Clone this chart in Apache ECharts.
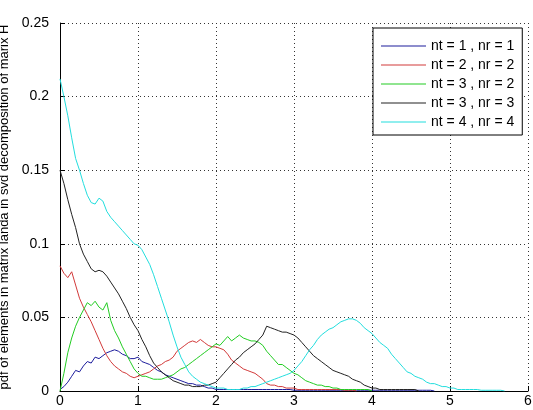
<!DOCTYPE html>
<html>
<head>
<meta charset="utf-8">
<script src="https://cdn.jsdelivr.net/npm/echarts@6/dist/echarts.min.js"></script>
<style>
  html, body { margin: 0; padding: 0; background: #fff; }
  #chart { width: 533px; height: 410px; }
</style>
</head>
<body>
<div id="chart"></div>
<script>
// Histogram-estimated pdfs of singular values, sampled every 0.05 from 0
const STEP = 0.05;
const seriesNames = ['nt = 1 , nr = 1', 'nt = 2 , nr = 2', 'nt = 3 , nr = 2', 'nt = 3 , nr = 3', 'nt = 4 , nr = 4'];
const seriesColors = ['#1c1c9c', '#d23a3a', '#22cc22', '#222222', '#22dddd'];
const xTicks = [0, 1, 2, 3, 4, 5, 6];
const yTicks = [0, 0.05, 0.1, 0.15, 0.2, 0.25];

const pdf11 = [
  .001,.003,.006,.010,.014,.013,.017,.020,.019,.023,.022,.024,.026,.027,.028,.027,.025,.024,.022,.022,
  .023,.020,.019,.018,.016,.014,.013,.011,.010,.009,.008,.007,.006,.005,.005,.004,.004,.003,.002,.002,
  .001,.001,.001,.001,.001,.001,.001,.001,.001,.001,.001,.001,.001,.001,.001,.001,.001,.001,.001,.001,
  .0005,.0005,.0005,.0005,.0005,.0005,.0005,.0005,.0005,.0005,.0005,.0005,.0005,.0005,.0005,.0005,.0005,.0005,.0005,.0005,
  .0005,.0005,.0005,.0005,.0005,.0005,.0005,.0005,.0005,.0005,.0005,.0005,.0005,.0005,.0005,.0005,0
];
const pdf22 = [
  .085,.080,.077,.081,.072,.063,.057,.052,.047,.041,.035,.029,.024,.020,.017,.015,.013,.012,.010,.009,
  .010,.011,.012,.013,.015,.017,.018,.020,.021,.023,.027,.029,.031,.033,.034,.033,.035,.033,.031,.030,
  .030,.029,.028,.025,.021,.019,.017,.015,.014,.013,.012,.010,.008,.005,.004,.004,.003,.003,.002,.002,
  .002,.001,.001,.001,.001,.001,.001,.001,.001,.001,.001,.001,.001,.0005,.0005,.0005,0
];
const pdf32 = [
  0,.012,.026,.036,.044,.050,.055,.060,.058,.061,.057,.055,.060,.048,.041,.036,.030,.025,.020,.015,
  .012,.010,.010,.009,.008,.008,.008,.009,.010,.011,.013,.015,.016,.018,.020,.022,.024,.026,.028,.030,
  .032,.031,.034,.037,.034,.036,.038,.036,.035,.034,.034,.033,.031,.027,.024,.021,.018,.018,.016,.014,
  .012,.011,.009,.007,.006,.005,.004,.004,.003,.003,.002,.002,.001,.001,.001,.001,.001,.001,.001,.001,
  0
];
const pdf33 = [
  .150,.141,.130,.120,.111,.100,.093,.088,.083,.081,.082,.081,.078,.074,.070,.066,.061,.056,.050,.045,
  .041,.035,.030,.024,.019,.016,.013,.011,.009,.007,.006,.005,.004,.004,.003,.003,.003,.004,.004,.005,
  .006,.009,.012,.015,.018,.021,.023,.026,.028,.030,.032,.035,.038,.044,.043,.042,.041,.040,.040,.039,
  .038,.036,.033,.030,.027,.024,.022,.020,.018,.016,.014,.013,.012,.011,.010,.008,.007,.006,.004,.003,
  .002,.002,.001,.001,.001,.001,.001,.001,.001,.001,.001,.001,0
];
const pdf44 = [
  .212,.200,.187,.172,.158,.150,.141,.133,.128,.127,.131,.129,.122,.118,.115,.112,.109,.106,.103,.100,
  .099,.096,.091,.086,.079,.071,.063,.055,.047,.038,.030,.023,.018,.013,.010,.008,.006,.005,.004,.003,
  .002,.002,.002,.001,.001,.001,.001,.002,.002,.003,.003,.004,.005,.006,.007,.008,.009,.010,.011,.012,
  .014,.017,.020,.024,.028,.031,.035,.038,.040,.042,.043,.045,.047,.048,.049,.049,.048,.046,.043,.041,
  .039,.036,.033,.031,.029,.025,.022,.019,.016,.013,.012,.010,.009,.008,.006,.005,.005,.004,.003,.003,
  .002,.002,.001,.001,.001,.001,.001,.001,.0005,.0005,.0005,.0005,.0005,.0005,0
];
const seriesValues = [pdf11, pdf22, pdf32, pdf33, pdf44];

// pair each sample with its bin position
function toPoints(vals) {
  return vals.map((v, i) => [+(i * STEP).toFixed(2), v]);
}

const FONT = 'Liberation Sans, Arial, sans-serif';
const chart = echarts.init(document.getElementById('chart'), null, { renderer: 'canvas' });

chart.setOption({
  animation: false,
  backgroundColor: '#ffffff',
  grid: { left: 60, right: 5, top: 23, bottom: 19, containLabel: false, outerBoundsMode: 'none' },
  xAxis: {
    type: 'value',
    min: xTicks[0], max: xTicks[xTicks.length - 1], interval: 1,
    axisLine: { show: true, onZero: false, lineStyle: { color: '#000', width: 1 } },
    axisTick: { show: true, inside: true, length: 5, lineStyle: { color: '#000' } },
    axisLabel: { color: '#000', fontFamily: FONT, fontSize: 14, margin: 3 },
    splitLine: { show: true, lineStyle: { color: '#333', width: 1, type: [1, 3] } }
  },
  yAxis: {
    type: 'value',
    min: yTicks[0], max: yTicks[yTicks.length - 1], interval: 0.05,
    name: 'pdf of elements in matrix landa in svd decomposition of marix H',
    nameLocation: 'middle',
    nameGap: 41,
    nameTextStyle: { color: '#000', fontFamily: FONT, fontSize: 13 },
    axisLine: { show: true, onZero: false, lineStyle: { color: '#000', width: 1 } },
    axisTick: { show: true, inside: true, length: 5, lineStyle: { color: '#000' } },
    axisLabel: { color: '#000', fontFamily: FONT, fontSize: 14, margin: 11 },
    splitLine: { show: true, lineStyle: { color: '#333', width: 1, type: [1, 3] } }
  },
  legend: {
    orient: 'vertical',
    left: 373, top: 28,
    padding: [11, 8, 6, 8],
    itemGap: 5,
    itemWidth: 45, itemHeight: 1,
    icon: 'rect',
    backgroundColor: '#fff',
    borderColor: '#000', borderWidth: 1,
    textStyle: { color: '#000', fontFamily: FONT, fontSize: 14, lineHeight: 14 },
    data: seriesNames
  },
  series: seriesNames.map((name, k) => ({
    name: name,
    type: 'line',
    data: toPoints(seriesValues[k]),
    showSymbol: false,
    symbol: 'none',
    lineStyle: { color: seriesColors[k], width: 1 },
    itemStyle: { color: seriesColors[k] },
    clip: true
  }))
});
</script>
</body>
</html>
